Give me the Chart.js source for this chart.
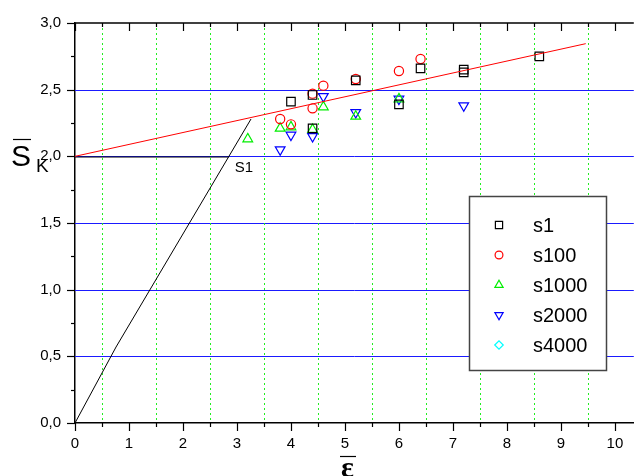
<!DOCTYPE html>
<html>
<head>
<meta charset="utf-8">
<script src="https://cdn.jsdelivr.net/npm/chart.js@4.4.0/dist/chart.umd.min.js"></script>
<style>
body { margin: 0; background: #fff; }
</style>
</head>
<body>
<canvas id="cv" width="641" height="476"></canvas>
<script>
// series
var s1X = [4.0, 4.4, 4.4, 5.2, 6.0, 6.4, 7.2, 7.2, 8.6];
var s1Y = [2.41, 2.46, 2.21, 2.57, 2.39, 2.66, 2.65, 2.63, 2.75];
var s100X = [3.8, 4.0, 4.4, 4.4, 4.6, 5.2, 6.0, 6.4];
var s100Y = [2.28, 2.24, 2.47, 2.36, 2.53, 2.58, 2.64, 2.73];
var s1000X = [3.2, 3.8, 4.0, 4.4, 4.6, 5.2, 6.0];
var s1000Y = [2.13, 2.21, 2.22, 2.20, 2.37, 2.30, 2.43];
var s2000X = [3.8, 4.0, 4.4, 4.6, 5.2, 6.0, 7.2];
var s2000Y = [2.05, 2.16, 2.15, 2.45, 2.33, 2.43, 2.38];
var s4000X = [];
var s4000Y = [];

// fitted / guide lines
var fitX = [0, 9.46];
var fitY = [2.0, 2.845];
var s1LineX = [0, 0.76, 3.26];
var s1LineY = [0, 0.57, 2.28];
var levelX = [0, 2.85];
var levelY = [1.995, 1.995];

var seriesNames = ["s1", "s100", "s1000", "s2000", "s4000"];
var yTicks = [0, 0.5, 1.0, 1.5, 2.0, 2.5, 3.0];
var blueLevels = [0.5, 1.0, 1.5, 2.0, 2.5];
var greenLevels = [0.5, 1.5, 2.5, 3.5, 4.5, 5.5, 6.5, 7.5, 8.5, 9.5];

function pts(xs, ys) {
	var out = [];
	for (var i = 0; i < xs.length; i++) out.push({x: xs[i], y: ys[i]});
	return out;
}

var FONT = "'Liberation Sans', Arial, sans-serif";

var markers = [
	{label: seriesNames[0], data: pts(s1X, s1Y), pointStyle: 'rect', pointRadius: 6, pointRotation: 0, borderColor: '#000000'},
	{label: seriesNames[1], data: pts(s100X, s100Y), pointStyle: 'circle', pointRadius: 4.6, pointRotation: 0, borderColor: '#ff0000'},
	{label: seriesNames[2], data: pts(s1000X, s1000Y), pointStyle: 'triangle', pointRadius: 5.6, pointRotation: 0, borderColor: '#00ee00'},
	{label: seriesNames[3], data: pts(s2000X, s2000Y), pointStyle: 'triangle', pointRadius: 5.6, pointRotation: 180, borderColor: '#0000ff'},
	{label: seriesNames[4], data: pts(s4000X, s4000Y), pointStyle: 'rectRot', pointRadius: 5, pointRotation: 0, borderColor: '#00ffff'}
];

var datasets = [
	{data: pts(fitX, fitY), showLine: true, borderColor: '#ff0000', borderWidth: 1, pointRadius: 0, fill: false},
	{data: pts(s1LineX, s1LineY), showLine: true, borderColor: '#000000', borderWidth: 1, pointRadius: 0, fill: false},
	{data: pts(levelX, levelY), showLine: true, borderColor: '#000000', borderWidth: 1, pointRadius: 0, fill: false}
];
markers.forEach(function(m) {
	datasets.push({
		label: m.label, data: m.data, showLine: false,
		pointStyle: m.pointStyle, pointRadius: m.pointRadius, pointRotation: m.pointRotation,
		pointBorderColor: m.borderColor, pointBackgroundColor: 'rgba(0,0,0,0)', pointBorderWidth: 1.2,
		borderColor: m.borderColor
	});
});

function near(v, step) {
	return Math.abs(v / step - Math.round(v / step)) < 1e-6;
}

function drawMarker(ctx, style, r, rot, x, y) {
	if (Chart.helpers && Chart.helpers.drawPoint) {
		Chart.helpers.drawPoint(ctx, {pointStyle: style, radius: r, rotation: rot, borderWidth: 1.2}, x, y);
	}
}

// grid lines under the data
var gridLines = {
	id: 'gridLines',
	beforeDatasetsDraw: function(chart) {
		var ctx = chart.ctx, a = chart.chartArea;
		var xs = chart.scales.x, ys = chart.scales.y;
		ctx.save();
		ctx.lineWidth = 1;
		ctx.strokeStyle = '#1a1aff';
		blueLevels.forEach(function(v) {
			var py = Math.round(ys.getPixelForValue(v)) + 0.5;
			ctx.beginPath();
			ctx.moveTo(a.left, py);
			ctx.lineTo(a.right, py);
			ctx.stroke();
		});
		ctx.strokeStyle = '#22ee22';
		ctx.setLineDash([2, 3]);
		greenLevels.forEach(function(v) {
			var px = Math.round(xs.getPixelForValue(v)) + 0.5;
			ctx.beginPath();
			ctx.moveTo(px, a.top + 5);
			ctx.lineTo(px, a.bottom);
			ctx.stroke();
		});
		ctx.restore();
	}
};

var extras = {
	id: 'extras',
	afterDraw: function(chart) {
		var ctx = chart.ctx, a = chart.chartArea;
		var xs = chart.scales.x, ys = chart.scales.y;
		ctx.save();
		ctx.strokeStyle = '#000';
		ctx.lineWidth = 1.5;
		// top frame
		ctx.beginPath();
		ctx.moveTo(a.left, a.top);
		ctx.lineTo(a.right, a.top);
		ctx.stroke();
		// y tick marks
		ctx.lineWidth = 1.2;
		for (var v = 0; v <= 3.0001; v += 0.25) {
			var py = Math.round(ys.getPixelForValue(v)) + 0.5;
			var len = near(v, 0.5) ? 8 : 4;
			ctx.beginPath();
			ctx.moveTo(a.left - len, py);
			ctx.lineTo(a.left, py);
			ctx.stroke();
		}
		// x tick marks, bottom outward and top inward
		for (var u = 0; u <= xs.max; u += 0.5) {
			var px = Math.round(xs.getPixelForValue(u)) + 0.5;
			var tl = near(u, 1) ? 8 : 4;
			ctx.beginPath();
			ctx.moveTo(px, a.bottom);
			ctx.lineTo(px, a.bottom + tl);
			ctx.moveTo(px, a.top);
			ctx.lineTo(px, a.top + tl);
			ctx.stroke();
		}

		// S1 label
		ctx.fillStyle = '#000';
		ctx.font = '15px ' + FONT;
		ctx.textAlign = 'center';
		ctx.textBaseline = 'middle';
		ctx.fillText('S1', xs.getPixelForValue(3.13), ys.getPixelForValue(1.91));

		// y title: S with bar, subscript K
		ctx.textAlign = 'left';
		ctx.textBaseline = 'alphabetic';
		ctx.font = '30px ' + FONT;
		ctx.fillText('S', 11, 166);
		ctx.font = '19px ' + FONT;
		ctx.fillText('K', 36, 172);
		ctx.lineWidth = 1.2;
		ctx.beginPath();
		ctx.moveTo(13, 139.5);
		ctx.lineTo(31, 139.5);
		ctx.stroke();

		// x title: epsilon with bar
		ctx.font = 'bold 30px ' + "'Liberation Serif', 'DejaVu Serif', serif";
		ctx.fillText('\u03b5', 341, 477);
		ctx.beginPath();
		ctx.moveTo(340, 456.5);
		ctx.lineTo(356, 456.5);
		ctx.stroke();

		// legend box
		var bx = 469.5, by = 196.5, bw = 137, bh = 174;
		ctx.fillStyle = '#fff';
		ctx.fillRect(bx, by, bw, bh);
		ctx.strokeStyle = '#444';
		ctx.lineWidth = 1.5;
		ctx.strokeRect(bx, by, bw, bh);
		ctx.font = '20px ' + FONT;
		ctx.textBaseline = 'middle';
		for (var i = 0; i < markers.length; i++) {
			var m = markers[i];
			var ly = 225 + i * 30;
			ctx.strokeStyle = m.borderColor;
			ctx.fillStyle = 'rgba(0,0,0,0)';
			ctx.lineWidth = 1.2;
			drawMarker(ctx, m.pointStyle, m.pointRadius * 0.85, m.pointRotation, 499, ly);
			ctx.fillStyle = '#000';
			ctx.fillText(m.label, 533, ly + 1);
		}
		ctx.restore();
	}
};

var config = {
	type: 'scatter',
	data: {datasets: datasets},
	options: {
		responsive: false,
		animation: false,
		layout: {padding: {top: 20, right: 0, left: 0, bottom: 0}},
		plugins: {legend: {display: false}, tooltip: {enabled: false}},
		scales: {
			x: {
				type: 'linear', min: 0, max: 10.35,
				afterFit: function(s) { s.height = 53; },
				border: {display: true, color: '#000', width: 1.5},
				grid: {display: false, drawTicks: false},
				ticks: {
					stepSize: 1, includeBounds: false, padding: 12, maxRotation: 0, autoSkip: false,
					color: '#000', font: {family: FONT, size: 15}
				}
			},
			y: {
				type: 'linear', min: 0, max: 3,
				afterFit: function(s) { s.width = 75; },
				border: {display: true, color: '#000', width: 1.5},
				grid: {display: false, drawTicks: false},
				ticks: {
					stepSize: 0.5, padding: 14, autoSkip: false,
					color: '#000', font: {family: FONT, size: 15},
					callback: function(v) { return v.toFixed(1).replace('.', ','); }
				}
			}
		}
	},
	plugins: [gridLines, extras]
};

var chart = new Chart(document.getElementById('cv').getContext('2d'), config);
</script>
</body>
</html>
